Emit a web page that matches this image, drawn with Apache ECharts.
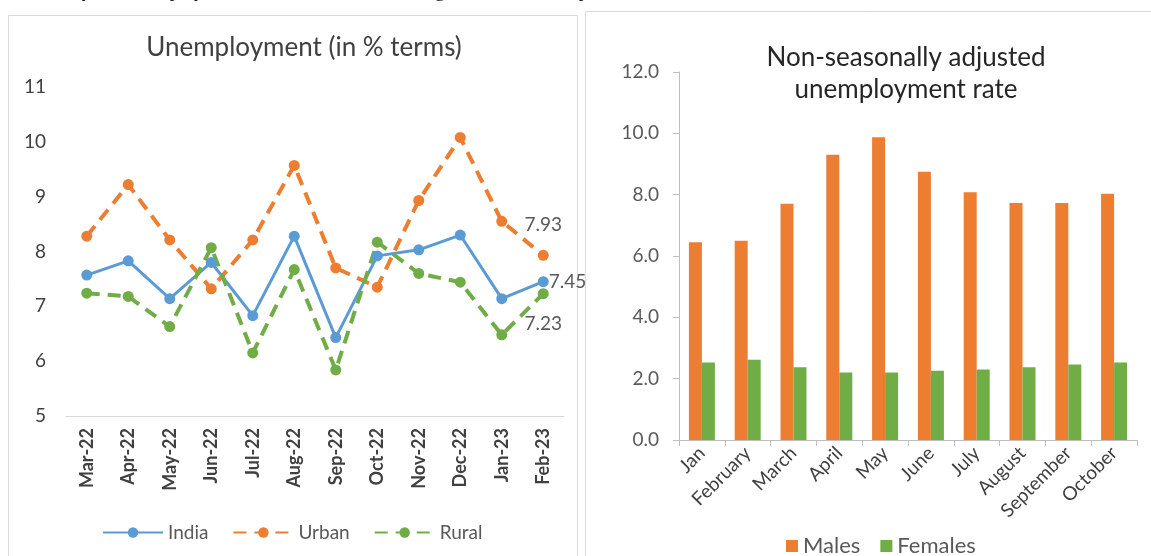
<!DOCTYPE html>
<html>
<head>
<meta charset="utf-8">
<script src="https://cdn.jsdelivr.net/npm/echarts@6/dist/echarts.min.js"></script>
<style>
  html, body { margin: 0; padding: 0; background: #fff; }
  #chart { width: 1151px; height: 556px; }
</style>
</head>
<body>
<div id="chart"></div>
<script>
  // left chart: monthly unemployment (%)
  const months = ["Mar-22", "Apr-22", "May-22", "Jun-22", "Jul-22", "Aug-22", "Sep-22", "Oct-22", "Nov-22", "Dec-22", "Jan-23", "Feb-23"]
  const india = [7.57, 7.83, 7.14, 7.80, 6.83, 8.28, 6.43, 7.92, 8.03, 8.30, 7.14, 7.45]
  const urban = [8.28, 9.22, 8.21, 7.32, 8.21, 9.57, 7.70, 7.35, 8.93, 10.08, 8.55, 7.93]
  const rural = [7.24, 7.18, 6.63, 8.07, 6.15, 7.67, 5.84, 8.17, 7.60, 7.44, 6.48, 7.23]

  // right chart: non-seasonally adjusted rate
  const barMonths = ["Jan", "February", "March", "April", "May", "June", "July", "August", "September", "October"]
  const males = [6.45, 6.5, 7.7, 9.3, 9.87, 8.75, 8.08, 7.73, 7.73, 8.03]
  const females = [2.53, 2.62, 2.37, 2.2, 2.2, 2.26, 2.3, 2.37, 2.46, 2.53]

  const font = "Lato, 'Noto Sans', sans-serif"
  const blue = "#5b9bd5", orange = "#ed7d31", green = "#70ad47"

  // label only the last point of a series
  function lastLabel(list, position, distance) {
    return list.map((v, i) => {
      if (i !== list.length - 1) return v
      return {
        value: v,
        label: {show: true, position: position, distance: distance, color: "#595959", fontSize: 19, fontFamily: font}
      }
    })
  }

  let myChart = echarts.init(document.getElementById("chart"))
  myChart.setOption({
    animation: false,
    graphic: [
      {
        type: "text", left: 0, top: -17,
        style: {text: "In summary, the unemployment rate was of interest during October 2022 as per record data.", font: "19px 'Liberation Serif', serif", fill: "#111"}
      },
      {type: "rect", shape: {x: 8.5, y: 15.5, width: 569, height: 560}, style: {fill: "none", stroke: "#d9d9d9", lineWidth: 1}},
      {type: "rect", shape: {x: 585.5, y: 11.5, width: 580, height: 560}, style: {fill: "none", stroke: "#d9d9d9", lineWidth: 1}}
    ],
    title: [
      {
        text: "Unemployment (in % terms)",
        left: 299, top: 30, textAlign: "center",
        textStyle: {fontFamily: font, fontSize: 26, fontWeight: "normal", color: "#404040"}
      },
      {
        text: "Non-seasonally adjusted\nunemployment rate",
        left: 901, top: 37, textAlign: "center",
        textStyle: {fontFamily: font, fontSize: 26, fontWeight: "normal", color: "#262626", lineHeight: 32}
      }
    ],
    legend: [
      {
        data: ["India", "Urban", "Rural"],
        left: 97, top: 518,
        itemWidth: 60, itemHeight: 13, itemGap: 24,
        textStyle: {fontFamily: font, fontSize: 19, color: "#595959"}
      },
      {
        data: ["Males", "Females"],
        left: 781, top: 530,
        icon: "rect", itemWidth: 12, itemHeight: 12, itemGap: 20,
        textStyle: {fontFamily: font, fontSize: 22, color: "#595959"}
      }
    ],
    grid: [
      {left: 66, right: 587, top: 87, bottom: 140},
      {left: 679, right: 14, top: 72, bottom: 116}
    ],
    xAxis: [
      {
        type: "category", gridIndex: 0, data: months,
        axisLine: {lineStyle: {color: "#d9d9d9"}},
        axisTick: {show: false},
        axisLabel: {rotate: 90, interval: 0, fontFamily: font, fontSize: 18, fontWeight: "bold", color: "#404040", margin: 12}
      },
      {
        type: "category", gridIndex: 1, data: barMonths,
        axisLine: {lineStyle: {color: "#bfbfbf"}},
        axisTick: {show: true, length: 6, lineStyle: {color: "#bfbfbf"}},
        axisLabel: {rotate: 45, interval: 0, fontFamily: font, fontSize: 19, color: "#404040", margin: 10}
      }
    ],
    yAxis: [
      {
        type: "value", gridIndex: 0, min: 5, max: 11, interval: 1,
        axisLine: {show: false}, axisTick: {show: false}, splitLine: {show: false},
        axisLabel: {fontFamily: font, fontSize: 19, color: "#404040", margin: 20}
      },
      {
        type: "value", gridIndex: 1, min: 0, max: 12, interval: 2,
        axisLine: {show: true, lineStyle: {color: "#bfbfbf"}},
        axisTick: {show: true, length: 6, lineStyle: {color: "#bfbfbf"}},
        splitLine: {show: false},
        axisLabel: {fontFamily: font, fontSize: 19, color: "#595959", margin: 20, formatter: v => v.toFixed(1)}
      }
    ],
    series: [
      {
        name: "India", type: "line", xAxisIndex: 0, yAxisIndex: 0,
        data: lastLabel(india, "right", 0),
        color: blue, symbol: "circle", symbolSize: 11,
        lineStyle: {width: 3, color: blue}
      },
      {
        name: "Urban", type: "line", xAxisIndex: 0, yAxisIndex: 0,
        data: lastLabel(urban, "top", 15),
        color: orange, symbol: "circle", symbolSize: 11,
        lineStyle: {width: 4, type: [13, 8], color: orange}
      },
      {
        name: "Rural", type: "line", xAxisIndex: 0, yAxisIndex: 0,
        data: lastLabel(rural, "bottom", 15),
        color: green, symbol: "circle", symbolSize: 11,
        lineStyle: {width: 4, type: [13, 8], color: green}
      },
      {
        name: "Males", type: "bar", xAxisIndex: 1, yAxisIndex: 1,
        data: males, barWidth: 13, barGap: "0%",
        itemStyle: {color: orange}
      },
      {
        name: "Females", type: "bar", xAxisIndex: 1, yAxisIndex: 1,
        data: females, barWidth: 13,
        itemStyle: {color: green}
      }
    ]
  })
</script>
</body>
</html>
